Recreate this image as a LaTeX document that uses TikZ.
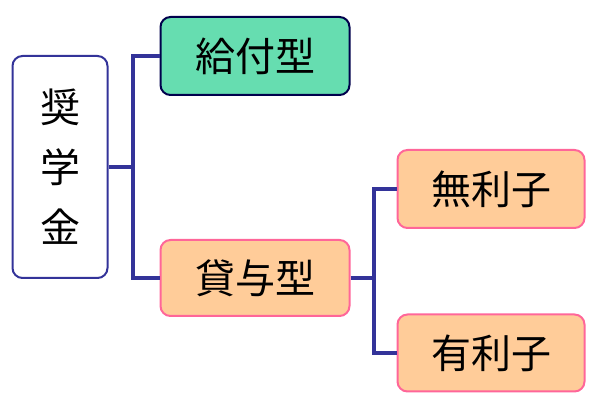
\documentclass[tikz,border=0pt]{standalone}
\usepackage{fontspec}
\setmainfont{Noto Sans CJK JP}
\definecolor{navy}{HTML}{333399}
\definecolor{mint}{HTML}{66DDB0}
\definecolor{peachc}{HTML}{FFCC99}
\definecolor{pinkc}{HTML}{FF6699}
\begin{document}
\begin{tikzpicture}[x=1pt,y=-1pt,
 box/.style={draw, line width=2pt, rounded corners=10pt, inner sep=0pt, font=\fontsize{40}{46}\selectfont},
 teal/.style={box, fill=mint, draw=black!70!blue},
 peach/.style={box, fill=peachc, draw=pinkc},
 conn/.style={draw=navy, line width=3.5pt}]
\useasboundingbox (0,0) rectangle (600,411);
\node[box, draw=navy, fill=white, minimum width=95pt, minimum height=222pt, align=center, font=\fontsize{40}{60}\selectfont] (s) at (60,167) {奨\\学\\金};
\node[teal, minimum width=189pt, minimum height=78pt] (k) at (255,56) {給付型};
\node[peach, minimum width=189pt, minimum height=76pt] (t) at (255,278) {貸与型};
\node[peach, minimum width=187pt, minimum height=78pt] (m) at (491,189) {無利子};
\node[peach, minimum width=187pt, minimum height=77pt] (y) at (491,353) {有利子};
\coordinate (j1) at (133,167);
\coordinate (j2) at (374,278);
\draw[conn] (s.east) -- (j1);
\draw[conn] (k.west) -| (j1) |- (t.west);
\draw[conn] (t.east) -- (j2);
\draw[conn] (m.west) -| (j2) |- (y.west);
\end{tikzpicture}
\end{document}
